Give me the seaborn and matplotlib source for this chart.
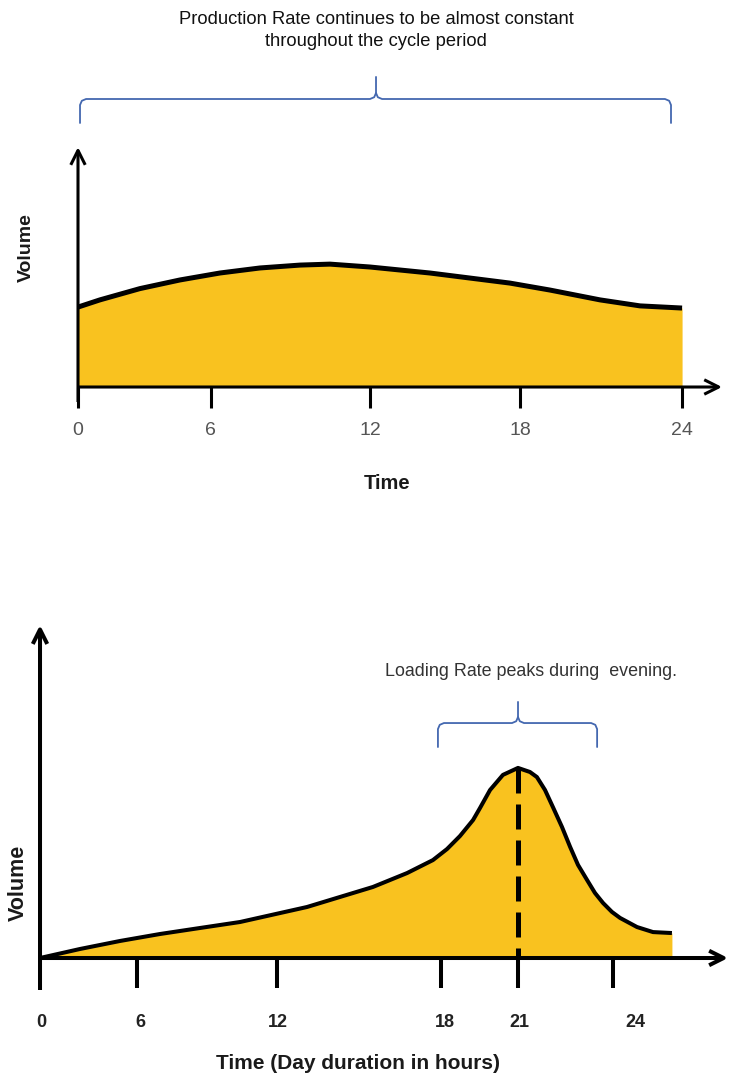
import matplotlib
matplotlib.use("Agg")
import matplotlib.pyplot as plt
import seaborn as sns

# ---------------- data ----------------
# top chart: production rate (position along time axis, volume)
top_pos = [0, 0.87, 2.46, 4.05, 5.64, 7.23, 8.82, 10.01, 11.6, 13.98, 17.16, 18.75, 20.74, 22.33, 24.0]
top_vol = [3.33, 3.63, 4.10, 4.46, 4.75, 4.96, 5.08, 5.12, 5.0, 4.75, 4.33, 4.04, 3.63, 3.38, 3.29]
top_tick_pos = [0, 5.28, 11.6, 17.56, 24.0]
top_tick_labels = ["0", "6", "12", "18", "24"]

# bottom chart: loading rate
bot_pos = [0, 1.67, 3.35, 5.02, 6.69, 8.37, 11.17, 13.93, 15.36, 16.44, 17.03, 17.57, 18.12,
           18.41, 18.83, 19.37, 20.0, 20.5, 20.79, 21.13, 21.46, 21.84, 22.18, 22.51, 22.89,
           23.22, 23.56, 23.93, 24.27, 24.98, 25.65, 26.44]
bot_vol = [0, 0.375, 0.71, 1.0, 1.25, 1.5, 2.125, 2.96, 3.54, 4.08, 4.54, 5.08, 5.75,
           6.25, 7.0, 7.63, 7.92, 7.75, 7.54, 7.0, 6.29, 5.46, 4.63, 3.88, 3.25,
           2.71, 2.29, 1.92, 1.67, 1.29, 1.08, 1.04]
bot_tick_pos = [4.06, 9.92, 16.78, 20.0, 23.97]
bot_label_pos = [0.04, 4.18, 9.96, 16.95, 20.04, 24.9]
bot_tick_labels = ["0", "6", "12", "18", "21", "24"]

top_title = "Production Rate continues to be almost constant\nthroughout the cycle period"
bot_note = "Loading Rate peaks during  evening."
top_xlabel = "Time"
bot_xlabel = "Time (Day duration in hours)"
ylabel = "Volume"

# ---------------- style ----------------
sns.set_theme(style="white")
plt.rcParams["font.family"] = ["Liberation Sans", "DejaVu Sans"]

FILL = "#F9C21F"
BRACE = "#4468B0"

fig = plt.figure(figsize=(7.3, 10.74), dpi=100)


def brace(ax, x0, x1, xc, y, y_end, y_tip, rx, ry, **kw):
    left_x = [x0, x0, x0 + rx * 0.3, x0 + rx, xc - rx, xc - rx * 0.3, xc, xc]
    left_y = [y_end, y - ry, y - ry * 0.3, y, y, y + ry * 0.3, y + ry, y_tip]
    right_x = [xc, xc + rx * 0.3, xc + rx, x1 - rx, x1 - rx * 0.3, x1, x1]
    right_y = [y + ry, y + ry * 0.3, y, y, y - ry * 0.3, y - ry, y_end]
    ax.plot(left_x, left_y, clip_on=False, solid_capstyle="round", **kw)
    ax.plot(right_x, right_y, clip_on=False, solid_capstyle="round", **kw)


def axis_arrows(ax, x_end, y_bottom, y_top, lw, ms):
    ap = dict(arrowstyle="->", lw=lw, color="black", shrinkA=0, shrinkB=0,
              mutation_scale=ms, capstyle="butt")
    ax.annotate("", xy=(0, y_top), xytext=(0, y_bottom), arrowprops=ap,
                annotation_clip=False, zorder=5)
    ax.annotate("", xy=(x_end, 0), xytext=(0, 0), arrowprops=ap,
                annotation_clip=False, zorder=5)


def clean(ax):
    for s in ax.spines.values():
        s.set_visible(False)
    ax.spines["bottom"].set_position(("data", 0))
    ax.set_yticks([])
    ax.patch.set_alpha(0)
    ax.grid(False)


# ---------------- top chart ----------------
ax1 = fig.add_axes([0, 1 - 440 / 1074, 1, 440 / 1074])
ax1.set_xlim(-3.099, 25.904)
ax1.set_ylim(-2.208, 16.125)
clean(ax1)
ax1.fill_between(top_pos, top_vol, 0, color=FILL, lw=0, zorder=1)
sns.lineplot(x=top_pos, y=top_vol, ax=ax1, color="black", linewidth=3.6, zorder=3,
             solid_joinstyle="round", solid_capstyle="butt")
axis_arrows(ax1, 25.59, -0.625, 10.0, 2.2, 26)
ax1.set_xticks(top_tick_pos)
ax1.set_xticklabels(top_tick_labels)
ax1.tick_params(axis="x", bottom=True, length=15, width=2.2, color="black",
                pad=10, labelsize=14, labelcolor="#555555", direction="out")
ax1.text(12.28, -4.04, top_xlabel, ha="center", va="center", fontsize=14.5,
         fontweight="bold", color="#1a1a1a")
ax1.text(-2.066, 5.83, ylabel, ha="center", va="center", rotation=90,
         fontsize=14, fontweight="bold", color="#1a1a1a")
ax1.text(11.84, 14.86, top_title, ha="center", va="center", fontsize=13.2,
         color="#111111", linespacing=1.35)
brace(ax1, 0.08, 23.56, 11.84, 12.0, 11.0, 12.92, 0.24, 0.25, color=BRACE, lw=1.3)

# ---------------- bottom chart ----------------
ax2 = fig.add_axes([0, 0, 1, 484 / 1074])
ax2.set_xlim(-1.674, 28.870)
ax2.set_ylim(-4.833, 15.333)
clean(ax2)
ax2.fill_between(bot_pos, bot_vol, 0, color=FILL, lw=0, zorder=1)
sns.lineplot(x=bot_pos, y=bot_vol, ax=ax2, color="black", linewidth=2.9, zorder=3,
             solid_joinstyle="round", solid_capstyle="butt")
axis_arrows(ax2, 28.79, -1.333, 13.875, 2.9, 26)

peak_i = bot_vol.index(max(bot_vol))
peak_x, peak_y = bot_pos[peak_i], bot_vol[peak_i]
ax2.plot([peak_x, peak_x], [peak_y, 0], color="black", lw=3.6,
         dashes=(5, 2.2), zorder=4, dash_capstyle="butt")

ax2.set_xticks(bot_label_pos)
ax2.set_xticklabels(bot_tick_labels)
ax2.set_xticks(bot_tick_pos, minor=True)
ax2.tick_params(axis="x", which="major", bottom=True, length=0, pad=40,
                labelsize=13, labelcolor="#222222")
ax2.tick_params(axis="x", which="minor", bottom=True, length=21.6, width=2.9,
                color="black", direction="out")
for t in ax2.get_xticklabels():
    t.set_fontweight("bold")
ax2.text(13.31, -4.375, bot_xlabel, ha="center", va="center", fontsize=15,
         fontweight="bold", color="#1a1a1a")
ax2.text(-0.92, 3.125, ylabel, ha="center", va="center", rotation=90,
         fontsize=15.5, fontweight="bold", color="#1a1a1a")
ax2.text(20.54, 11.92, bot_note, ha="center", va="center", fontsize=12.9,
         color="#333333")
brace(ax2, 16.65, 23.31, peak_x, 9.79, 8.79, 10.67, 0.25, 0.25, color=BRACE, lw=1.3)

fig.savefig("out.png", dpi=100)
